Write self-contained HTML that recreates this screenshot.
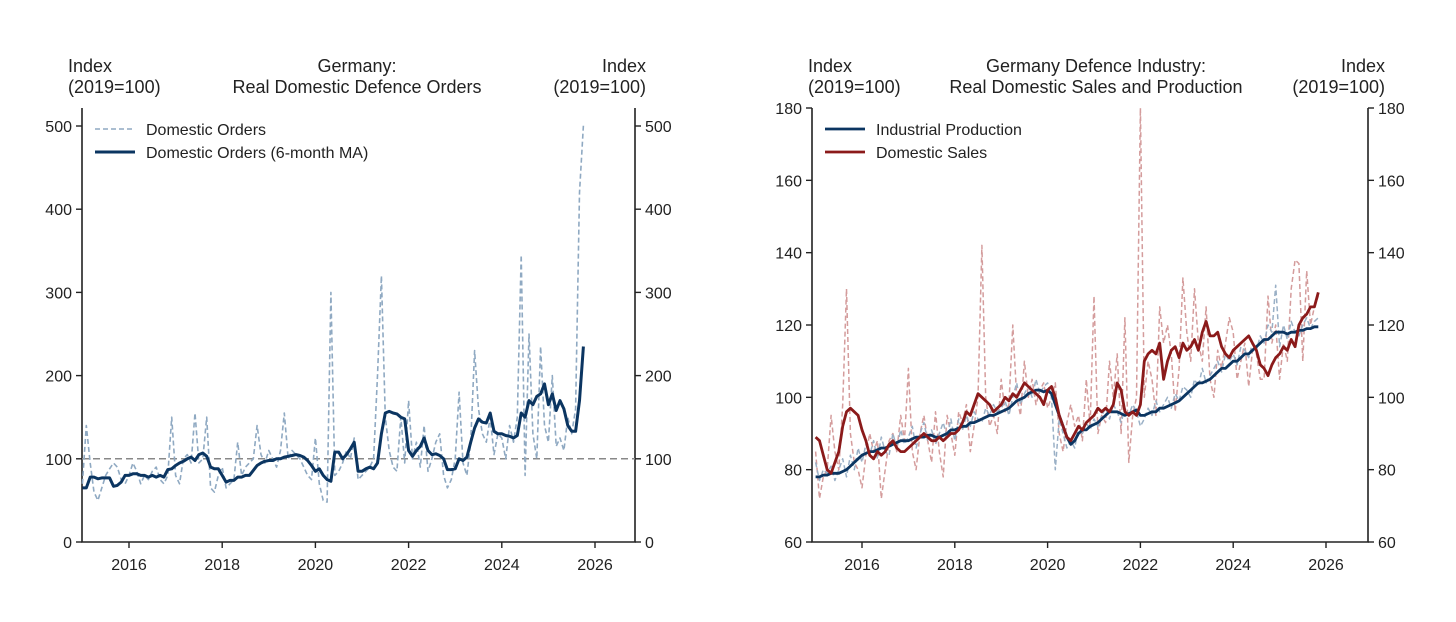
<!DOCTYPE html>
<html><head><meta charset="utf-8"><style>
body{margin:0;background:#fff}
svg{display:block;font-family:"Liberation Sans",sans-serif}
</style></head><body>
<svg id="s" width="1456" height="622" xmlns="http://www.w3.org/2000/svg"></svg>
<script>
const years=[2016,2018,2020,2022,2024,2026];
const leftTicks=[0,100,200,300,400,500];
const rightTicks=[60,80,100,120,140,160,180];
const orders=[70,140,95,60,50,65,80,88,95,90,75,70, 80,95,85,70,80,75,85,90,75,70,80,150, 80,70,100,105,95,155,95,100,150,65,60,80, 90,65,70,75,120,80,90,95,100,140,105,95, 110,100,90,110,155,100,110,105,100,90,80,75, 125,70,50,48,300,80,85,95,110,100,125,75, 80,85,90,100,200,320,150,110,90,85,150,95, 170,100,120,90,140,85,100,120,130,80,65,75, 100,180,95,80,120,230,160,130,120,150,105,130, 125,100,140,120,150,345,80,250,130,100,235,140, 120,200,115,125,110,150,130,160,420,515];
const ordersMA=[65,65,78,78,76,77,77,77,67,68,72,80, 80,82,82,80,80,78,80,78,80,78,87,88, 92,95,97,100,102,98,105,107,103,90,88,88, 80,72,74,74,78,78,80,80,86,92,95,97, 98,98,100,100,102,103,104,105,104,102,98,92, 85,88,80,75,73,108,108,100,105,112,120,85, 85,88,90,88,95,130,155,157,155,154,150,148, 110,103,110,115,125,110,105,106,104,100,87,87, 88,100,98,102,120,137,148,144,143,155,133,130, 130,128,127,125,128,155,150,170,165,175,178,190, 165,178,158,170,160,140,133,133,170,235];
const ip=[78,78,78.5,78.5,79,79,79,79.5,80,81,82,83, 84,84.5,85,85,85.5,86,86,86.5,87,87.5,88,88, 88,88.5,89,89,89,89.5,89.5,89,89,89.5,90,91, 91,91.5,92,92,93,93,93.5,94,94.5,95,95,95.5, 96,96.5,97,98,99,99.5,100,101,101.5,102,102,101.5, 102,101,98,95,92,89,87,88,90,91,91,92, 92.5,93,94,95,96,96,96,95.5,95,95.5,96,96.5, 95,95,95.5,96,96,97,97,97.5,98,98.5,99,100, 101,102,103,104,104,104.5,105,106,107,108,108,109, 110,110,111,112,112,113,114,115,116,116,117,118, 118,118,117.5,118,118,118.5,118.5,119,119,119.5,119.5];
const ipRaw=[82,77,80,79,81,77,80,83,78,84,80,86, 82,87,84,88,83,89,85,84,90,86,91,87, 89,92,86,90,93,88,91,87,90,93,89,94, 88,94,91,95,92,96,94,93,97,95,98,96, 97,99,95,100,104,98,101,103,100,105,101,103, 104,100,80,94,90,86,88,86,92,90,93,91, 94,92,95,97,94,98,96,93,97,95,98,96, 92,94,97,95,99,96,98,100,97,101,99,103, 102,100,105,103,108,104,106,108,110,107,112,110, 112,109,114,113,111,115,113,117,115,120,118,131, 114,120,116,121,118,117,120,122,119,121,122];
const sales=[89,88,84,80,79,82,85,92,96,97,96,95, 91,88,84,83,85,84,85,87,88,86,85,85, 86,87,88,89,90,89,88,88,89,88,89,90, 90,91,93,96,95,98,101,100,99,98,96,97, 98,100,99,101,100,102,104,103,102,101,100,98, 102,103,100,95,92,89,88,90,92,91,93,94, 95,97,96,97,96,98,104,102,96,95,96,95, 98,110,112,113,112,115,105,110,113,114,111,115, 113,114,116,113,118,121,117,117,118,114,112,111, 113,114,115,116,117,115,113,109,108,106,109,111, 112,114,113,116,114,120,122,123,125,125,129];
const salesRaw=[85,72,78,80,95,85,80,98,130,90,82,80, 75,84,90,85,88,72,80,88,90,85,95,88, 108,85,80,90,95,88,82,96,85,78,95,90, 84,96,93,98,85,92,100,142,100,92,95,90, 105,96,98,120,100,95,110,100,105,98,102,104, 97,100,104,90,85,93,98,92,95,88,105,92, 128,90,95,93,110,100,112,90,122,82,95,100, 180,100,110,105,95,125,115,120,112,96,108,133, 118,110,130,115,110,125,105,100,113,108,115,122, 118,105,110,115,103,113,112,105,105,128,115,120, 105,115,110,130,138,137,110,135,120,125,128];

const NS="http://www.w3.org/2000/svg", svg=document.getElementById('s');
function el(tag,attrs,parent){const e=document.createElementNS(NS,tag);for(const k in attrs)e.setAttribute(k,attrs[k]);(parent||svg).appendChild(e);return e;}
function txt(x,y,s,anchor,size,parent){const t=el('text',{x:x,y:y,'text-anchor':anchor||'start','font-size':size||16,fill:'#222'},parent);t.textContent=s;return t;}

function chart(cfg){
  const g=el('g',{});
  
  
  const xs=t=>cfg.x2016+(t-2016)*cfg.pxYear;
  const ys=v=>cfg.y0+(v-cfg.vmin)*(cfg.y1-cfg.y0)/(cfg.vmax-cfg.vmin);
  const L=cfg.L,R=cfg.R,B=542;
  const ax=el('path',{d:`M${L},${cfg.top}V${B}H${R}V${cfg.top}`,fill:'none',stroke:'#222','stroke-width':1.6},g);
  
  
  cfg.yt.forEach(v=>{
    const y=ys(v);
    el('line',{x1:L-6,x2:L,y1:y,y2:y,stroke:'#222','stroke-width':1.4},g);
    el('line',{x1:R,x2:R+6,y1:y,y2:y,stroke:'#222','stroke-width':1.4},g);
    const a=txt(L-10,y+6,String(v),'end',16,g);
    
    
    const b=txt(R+10,y+6,String(v),'start',16,g);
    
    
  });
  years.forEach(yr=>{
    const x=xs(yr);
    el('line',{x1:x,x2:x,y1:B,y2:B+6,stroke:'#222','stroke-width':1.4},g);
    const t=txt(x,B+28,String(yr),'middle',16,g);
    
    
  });
  if(cfg.ref!=null){
    const r=el('line',{x1:L,x2:R,y1:ys(cfg.ref),y2:ys(cfg.ref),stroke:'#888','stroke-width':1.5,'stroke-dasharray':'7,4'},g);
    
    
  }
  cfg.series.forEach(s=>{
    const d=s.data.map((v,i)=>(i?'L':'M')+xs(2015+i/12).toFixed(1)+','+ys(Math.min(v,cfg.vmax+0.5)).toFixed(1)).join('');
    const p=el('path',{d:d,fill:'none',stroke:s.color,'stroke-width':s.w,'stroke-dasharray':s.dash||'none','stroke-linejoin':'round'},g);
    
    
  });
  const t1=txt(cfg.tl,72,'Index','start',18,g);
  txt(cfg.tl,93,'(2019=100)','start',18,g);
  const t2=txt(cfg.tr,72,'Index','end',18,g);
  txt(cfg.tr,93,'(2019=100)','end',18,g);
  const c1=txt(cfg.tc,72,cfg.title[0],'middle',18,g);
  txt(cfg.tc,93,cfg.title[1],'middle',18,g);
  cfg.legend.forEach((lg,i)=>{
    const y=129+i*23;
    const ln=el('line',{x1:L+13,x2:L+53,y1:y,y2:y,stroke:lg.color,'stroke-width':lg.w,'stroke-dasharray':lg.dash||'none'},g);
    
    
    const t=txt(L+64,y+6,lg.label,'start',16,g);
    
    
  });
}
chart({name:'orders-chart',L:82,R:635,top:108,x2016:129,pxYear:46.6,y0:542,y1:126,vmin:0,vmax:500,yt:leftTicks,ref:100,
  tl:68,tr:646,tc:357,title:['Germany:','Real Domestic Defence Orders'],
  series:[{name:'domestic-orders-line',data:orders,color:'#8fa9c2',w:1.6,dash:'5,3'},{name:'domestic-orders-ma-line',data:ordersMA,color:'#0b3561',w:3}],
  legend:[{label:'Domestic Orders',color:'#8fa9c2',w:1.6,dash:'5,3'},{label:'Domestic Orders (6-month MA)',color:'#0b3561',w:3}]});
chart({name:'sales-production-chart',L:812,R:1368,top:108,x2016:862,pxYear:46.4,y0:542,y1:108,vmin:60,vmax:180,yt:rightTicks,ref:null,
  tl:808,tr:1385,tc:1096,title:['Germany Defence Industry:','Real Domestic Sales and Production'],
  series:[{name:'domestic-sales-raw-line',data:salesRaw,color:'#d49c9c',w:1.5,dash:'5,3'},{name:'industrial-production-raw-line',data:ipRaw,color:'#9ab0c6',w:1.5,dash:'5,3'},
    {name:'industrial-production-line',data:ip,color:'#0b3561',w:2.8},{name:'domestic-sales-line',data:sales,color:'#8b1a1a',w:2.8}],
  legend:[{label:'Industrial Production',color:'#0b3561',w:2.8},{label:'Domestic Sales',color:'#8b1a1a',w:2.8}]});
</script>
</body></html>
